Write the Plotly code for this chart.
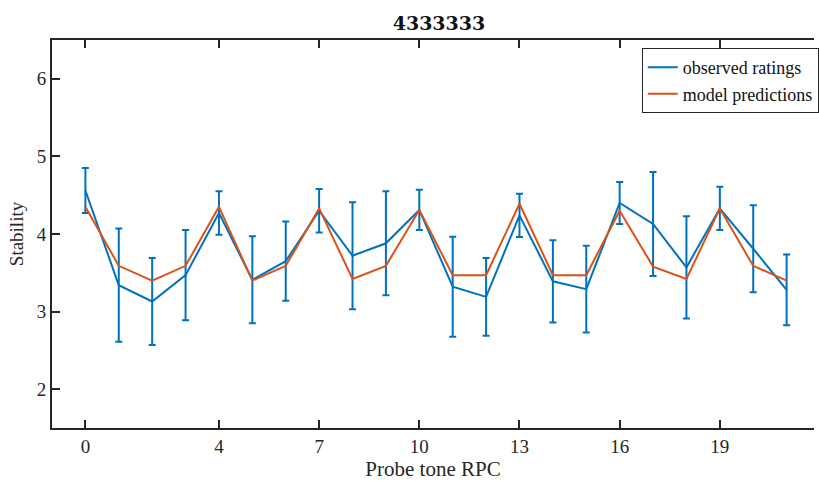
import plotly.graph_objects as go

# Probe tone positions (RPC) and ratings
probe_rpc = list(range(22))
observed = [4.56, 3.34, 3.13, 3.47, 4.27, 3.41, 3.65, 4.30, 3.72, 3.88, 4.31,
            3.32, 3.19, 4.24, 3.39, 3.29, 4.40, 4.13, 3.57, 4.33, 3.81, 3.28]
observed_err = [0.29, 0.73, 0.56, 0.58, 0.28, 0.56, 0.51, 0.28, 0.69, 0.67, 0.26,
                0.645, 0.50, 0.28, 0.53, 0.56, 0.27, 0.67, 0.66, 0.28, 0.56, 0.455]
predicted = [4.35, 3.59, 3.40, 3.59, 4.35, 3.40, 3.59, 4.33, 3.42, 3.59, 4.31,
             3.47, 3.47, 4.39, 3.47, 3.47, 4.30, 3.58, 3.42, 4.33, 3.59, 3.40]
x_ticks = [0, 4, 7, 10, 13, 16, 19]
y_ticks = [2, 3, 4, 5, 6]

BLUE = "#0072BD"
ORANGE = "#D95319"
AXIS = "#262626"
FONT = "Liberation Serif"

fig = go.Figure()
fig.add_trace(go.Scatter(
    x=probe_rpc, y=observed, mode="lines", name="observed ratings",
    line=dict(color=BLUE, width=2),
    error_y=dict(type="data", array=observed_err, visible=True,
                 color=BLUE, thickness=2, width=3.5),
))
fig.add_trace(go.Scatter(
    x=probe_rpc, y=predicted, mode="lines", name="model predictions",
    line=dict(color=ORANGE, width=2),
))

fig.update_layout(
    width=819, height=482,
    margin=dict(l=52, r=0, t=40, b=54),
    paper_bgcolor="white", plot_bgcolor="white",
    font=dict(family=FONT, color=AXIS, size=19),
    title=dict(text="<b>4333333</b>", x=0.536, xanchor="center",
               y=0.952, yref="container", yanchor="middle",
               font=dict(family="DejaVu Serif", size=19, color="#111111")),
    showlegend=True,
    legend=dict(x=0.774, y=0.979, xanchor="left", yanchor="top",
                bgcolor="white", bordercolor=AXIS, borderwidth=1,
                font=dict(family=FONT, size=18, color="#111111"),
                tracegroupgap=0, itemwidth=30),
)
fig.update_xaxes(
    range=[-1, 21.82], tickvals=x_ticks, ticks="inside", ticklen=8,
    tickwidth=1.5, tickcolor=AXIS, showline=True, linecolor=AXIS,
    linewidth=2, mirror="ticks", showgrid=False, zeroline=False,
    title=dict(text="Probe tone RPC", standoff=4,
               font=dict(family=FONT, size=21)),
    tickfont=dict(family=FONT, size=19),
)
fig.update_yaxes(
    range=[1.5, 6.5], tickvals=y_ticks, ticks="inside", ticklen=8,
    tickwidth=1.5, tickcolor=AXIS, showline=True, linecolor=AXIS,
    linewidth=2, showgrid=False, zeroline=False,
    title=dict(text="Stability", standoff=8,
               font=dict(family=FONT, size=19)),
    tickfont=dict(family=FONT, size=19),
)

fig.write_html("out.html")
